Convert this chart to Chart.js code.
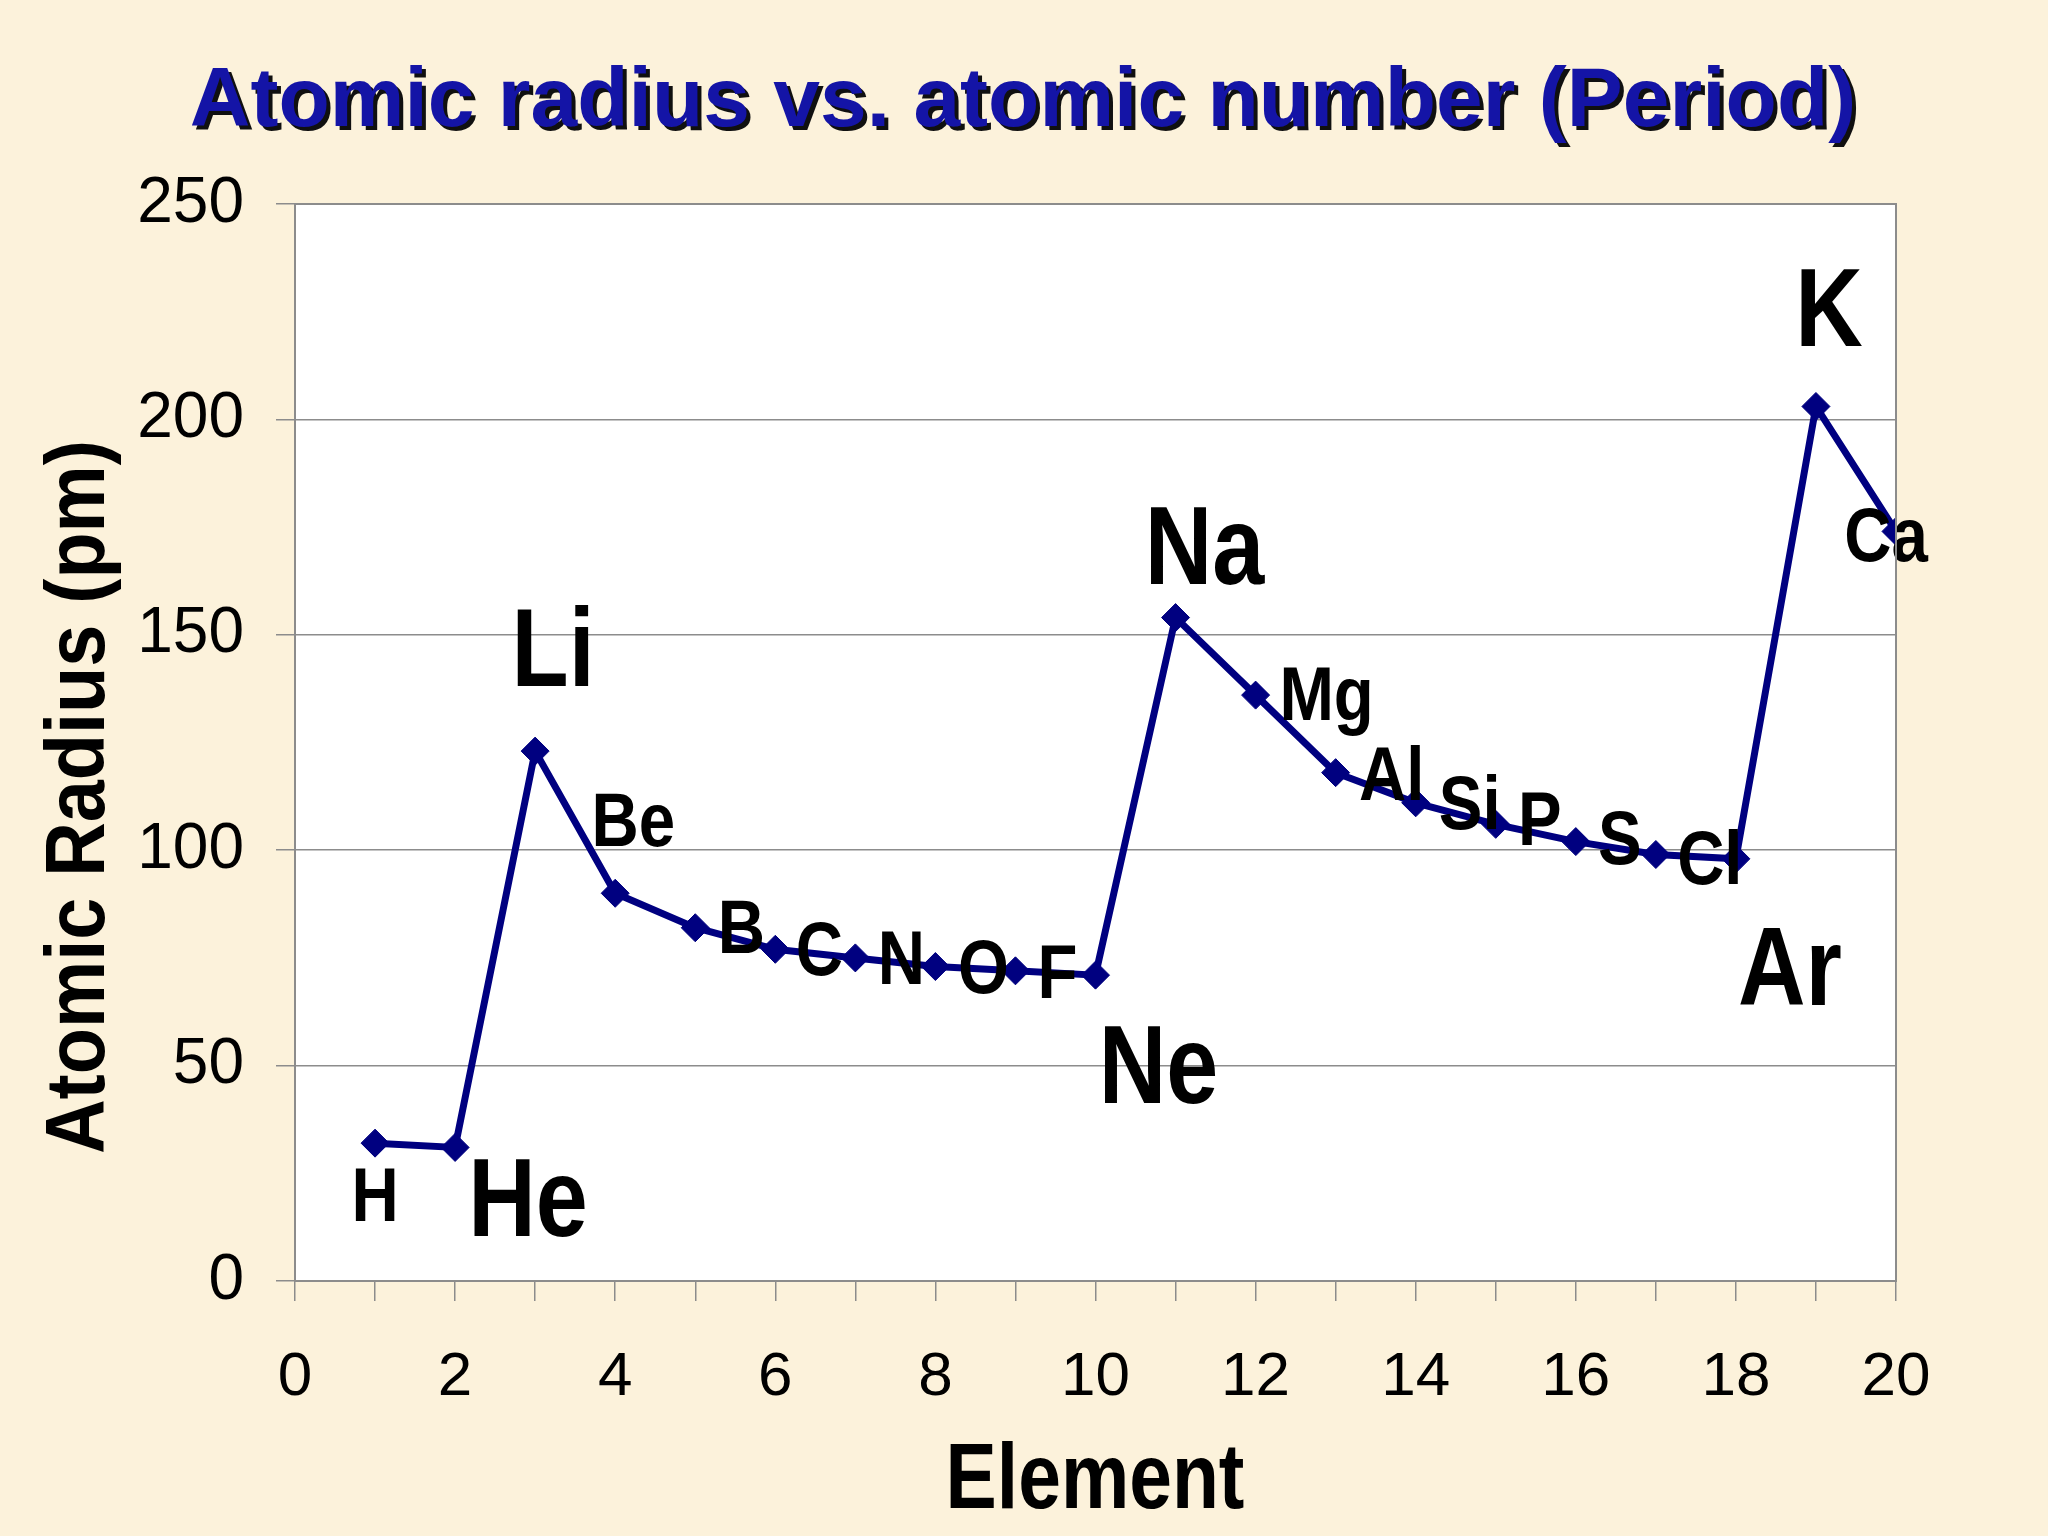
<!DOCTYPE html>
<html>
<head>
<meta charset="utf-8">
<script src="https://cdn.jsdelivr.net/npm/chart.js@4.4.1/dist/chart.umd.min.js"></script>
<style>
  html, body { margin: 0; padding: 0; background: #fcf2db; }
  #wrap { width: 2048px; height: 1536px; position: relative; }
  canvas { display: block; }
</style>
</head>
<body>
<div id="wrap"><canvas id="c" width="2048" height="1536"></canvas></div>
<script>
// ---- data ----
const atomicNumbers = [1, 2, 3, 4, 5, 6, 7, 8, 9, 10, 11, 12, 13, 14, 15, 16, 17, 18, 19, 20];
const symbols = ['H','He','Li','Be','B','C','N','O','F','Ne','Na','Mg','Al','Si','P','S','Cl','Ar','K','Ca'];
const radiusPm = [32, 31, 123, 90, 82, 77, 75, 73, 72, 71, 154, 136, 118, 111, 106, 102, 99, 98, 203, 174];
const yTicks = [0, 50, 100, 150, 200, 250];
const xTickLabels = [0, 2, 4, 6, 8, 10, 12, 14, 16, 18, 20];
const chartTitle = 'Atomic radius vs. atomic number (Period)';
const xTitle = 'Element';
const yTitle = 'Atomic Radius (pm)';

// ---- label layout (offsets in px from the point; size class) ----
const labelLayout = {
  H:  [0, 78, 'm'],   He: [73, 89, 'b'],  Li: [18, -65, 'b'], Be: [18, -47, 'm'],
  B:  [46, 25, 'm'],  C:  [44, 26, 'm'],  N:  [46, 26, 'm'],  O:  [48, 26, 'm'],
  F:  [42, 27, 'm'],  Ne: [63, 128, 'b'], Na: [29, -34, 'b'], Mg: [71, 25, 'm'],
  Al: [56, 27, 'm'],  Si: [54, 26, 'm'],  P:  [44, 21, 'm'],  S:  [44, 22, 'm'],
  Cl: [54, 29, 'm'],  Ar: [54, 146, 'b'], K:  [13, -60, 'b'], Ca: [-10, 30, 'm']
};

const FAMILY = "'Liberation Sans', Arial, sans-serif";
const GRAY = '#8c8c8c';
const NAVY = '#000080';

const points = atomicNumbers.map((x, i) => ({ x: x, y: radiusPm[i] }));

function narrowText(ctx, text, x, y, sx) {
  ctx.save();
  ctx.translate(x, y);
  ctx.scale(sx, 1);
  ctx.fillText(text, 0, 0);
  ctx.restore();
}

const plotBg = {
  id: 'plotBg',
  beforeDraw(chart) {
    const { ctx, chartArea: a } = chart;
    ctx.save();
    ctx.fillStyle = '#ffffff';
    ctx.fillRect(a.left, a.top, a.right - a.left, a.bottom - a.top);
    ctx.restore();
  },
  afterDraw(chart) {
    const { ctx, chartArea: a } = chart;
    ctx.save();
    ctx.strokeStyle = GRAY;
    ctx.lineWidth = 2;
    ctx.strokeRect(a.left, a.top, a.right - a.left, a.bottom - a.top);
    ctx.restore();
  }
};

const texts = {
  id: 'texts',
  afterDatasetsDraw(chart) {
    const { ctx } = chart;
    const meta = chart.getDatasetMeta(0);
    ctx.save();
    ctx.fillStyle = '#000000';
    ctx.textAlign = 'center';
    ctx.textBaseline = 'alphabetic';
    meta.data.forEach((pt, i) => {
      const s = symbols[i];
      const l = labelLayout[s];
      const big = l[2] === 'b';
      ctx.font = 'bold ' + (big ? 112 : 76) + 'px ' + FAMILY;
      narrowText(ctx, s, pt.x + l[0], pt.y + l[1], big ? 0.835 : 0.86);
    });
    ctx.restore();
  },
  afterDraw(chart) {
    const { ctx } = chart;
    ctx.save();
    ctx.textAlign = 'center';
    ctx.textBaseline = 'alphabetic';
    // main title with shadow
    ctx.font = 'bold 84px ' + FAMILY;
    ctx.fillStyle = '#101010';
    ctx.fillText(chartTitle, 1023 + 4, 126 + 4);
    ctx.fillStyle = '#1414a6';
    ctx.fillText(chartTitle, 1023, 126);
    // x title
    ctx.fillStyle = '#000000';
    ctx.font = 'bold 92px ' + FAMILY;
    narrowText(ctx, xTitle, 1095, 1508, 0.835);
    // y title
    ctx.font = 'bold 84px ' + FAMILY;
    ctx.translate(104, 797);
    ctx.rotate(-Math.PI / 2);
    narrowText(ctx, yTitle, 0, 0, 0.9);
    ctx.restore();
  }
};

new Chart(document.getElementById('c'), {
  type: 'line',
  data: {
    datasets: [{
      data: points,
      borderColor: NAVY,
      backgroundColor: NAVY,
      borderWidth: 7,
      tension: 0,
      pointStyle: 'rectRot',
      pointRadius: 14,
      pointBorderWidth: 1,
      pointBackgroundColor: NAVY,
      pointBorderColor: NAVY,
      fill: false
    }]
  },
  options: {
    responsive: false,
    animation: false,
    layout: { padding: { left: 0, top: 204, right: 152, bottom: 0 } },
    plugins: { legend: { display: false }, tooltip: { enabled: false }, title: { display: false } },
    scales: {
      x: {
        type: 'linear',
        min: 0, max: 20,
        afterFit(s) { s.height = 255; },
        afterBuildTicks(s) { s.ticks = [0].concat(atomicNumbers).map(v => ({ value: v })); },
        ticks: {
          autoSkip: false,
          maxRotation: 0,
          padding: 40,
          color: '#000000',
          font: { family: FAMILY, size: 62 },
          callback: v => (xTickLabels.includes(v) ? String(v) : '')
        },
        grid: { drawOnChartArea: false, color: GRAY, lineWidth: 1.5, tickLength: 20, tickColor: GRAY },
        border: { color: GRAY, width: 2 }
      },
      y: {
        type: 'linear',
        min: 0, max: 250,
        afterFit(s) { s.width = 295; },
        afterBuildTicks(s) { s.ticks = yTicks.map(v => ({ value: v })); },
        ticks: {
          padding: 32,
          color: '#000000',
          font: { family: FAMILY, size: 64 }
        },
        grid: { color: GRAY, lineWidth: 1.5, tickLength: 19, tickColor: GRAY },
        border: { color: GRAY, width: 2 }
      }
    }
  },
  plugins: [plotBg, texts]
});
</script>
</body>
</html>
